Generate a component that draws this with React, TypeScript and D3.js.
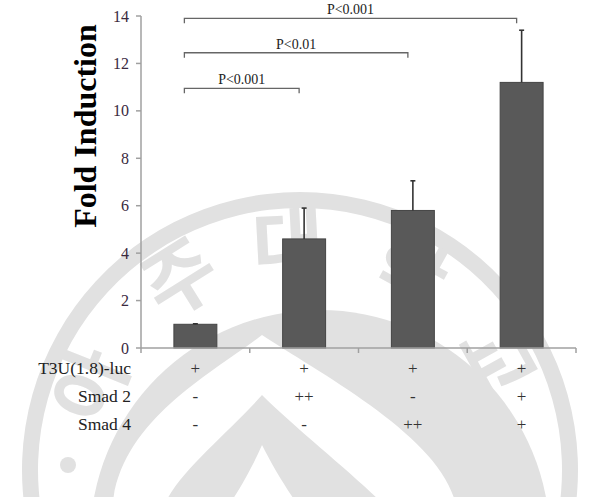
import React from 'react';
import * as d3 from 'd3';

const groups = ['g1', 'g2', 'g3', 'g4'];
const foldValues = [1.0, 4.6, 5.8, 11.2];
const errValues = [0.02, 1.3, 1.25, 2.2];
const yTicks = [0, 2, 4, 6, 8, 10, 12, 14];

const rowLabels = ['T3U(1.8)-luc', 'Smad 2', 'Smad 4'];
const rowT3U = ['+', '+', '+', '+'];
const rowSmad2 = ['-', '++', '-', '+'];
const rowSmad4 = ['-', '-', '++', '+'];

const bracketFrom = [0, 0, 0];
const bracketTo = [3, 2, 1];
const bracketLevel = [13.9, 12.45, 10.95];
const bracketText = ['P<0.001', 'P<0.01', 'P<0.001'];

const watermarkChars = ['아', '주', '대', '학', '교'];
const watermarkAngles = [-68, -32, -3, 29, 61];

const W = 591;
const H = 497;
const WM = '#e1e1e1';

// drop shape used in the watermark logo
const drop = (x0: number, y0: number, w: number) =>
  `M${x0},${y0} C${x0 - w * 0.35},${y0 + 40} ${x0 - w},${y0 + 90} ${x0 - w},${H + 20} ` +
  `L${x0 + w * 1.3},${H + 20} C${x0 + w * 1.3},${y0 + 110} ${x0 + w * 0.4},${y0 + 40} ${x0},${y0} Z`;

const App: React.FC = () => {
  const y = d3.scaleLinear().domain([0, 14]).range([348, 16]);
  const x = d3.scaleBand<string>()
    .domain(groups)
    .range([141, 576])
    .paddingInner(0.605)
    .paddingOuter(0.3025);
  const step = x.step();
  const cx = (i: number) => (x(groups[i]) ?? 0) + x.bandwidth() / 2;
  const boundaries = d3.range(groups.length + 1).map(i => 141 + i * step);

  const rows = [rowT3U, rowSmad2, rowSmad4];
  const rowY = [374, 402, 430];

  const ring = d3.arc()({
    innerRadius: 262,
    outerRadius: 278,
    startAngle: -Math.PI * 0.6,
    endAngle: Math.PI * 0.6,
  }) as string;

  return (
    <svg width={W} height={H} style={{ position: 'absolute', left: 0, top: 0, background: '#fff' }}
      fontFamily="'Liberation Serif', 'Times New Roman', serif">
      {/* watermark */}
      <g>
        <path d={ring} transform="translate(300,470)" fill={WM} />
        <circle cx={68} cy={465} r={8} fill={WM} />
        <circle cx={528} cy={468} r={8} fill={WM} />
        {watermarkChars.map((c, i) => (
          <text key={c} transform={`translate(300,470) rotate(${watermarkAngles[i]}) translate(0,-198)`}
            textAnchor="middle" fontSize={78} fontWeight="bold" fill={WM}
            fontFamily="'Noto Sans CJK KR', sans-serif">{c}</text>
        ))}
        <circle cx={320} cy={540} r={230} fill={WM} />
        <path d={drop(262, 335, 150)} fill="#fff" />
        <path d={drop(262, 395, 100)} fill={WM} />
        <path d={drop(262, 445, 50)} fill="#fff" />
      </g>

      {/* y axis */}
      <line x1={141} x2={141} y1={y(14)} y2={y(0)} stroke="#a0a0a0" strokeWidth={1.5} />
      {yTicks.map(t => (
        <g key={t}>
          <line x1={136} x2={141} y1={y(t)} y2={y(t)} stroke="#a0a0a0" strokeWidth={1.5} />
          <text x={129} y={y(t)} dy="0.35em" textAnchor="end" fontSize={16} fill="#3a2a3e">{t}</text>
        </g>
      ))}
      <text transform={`translate(96,126) rotate(-90)`} textAnchor="middle" fontSize={32}
        fontWeight="bold" fill="#000">Fold Induction</text>

      {/* bars */}
      {foldValues.map((v, i) => (
        <rect key={i} x={x(groups[i])} y={y(v)} width={x.bandwidth()} height={y(0) - y(v)}
          fill="#595959" stroke="#444" strokeWidth={1} />
      ))}
      {foldValues.map((v, i) => (
        <g key={'e' + i} stroke="#333" strokeWidth={1.6}>
          <line x1={cx(i)} x2={cx(i)} y1={y(v)} y2={y(v + errValues[i])} />
          <line x1={cx(i) - 2.5} x2={cx(i) + 2.5} y1={y(v + errValues[i])} y2={y(v + errValues[i])} />
        </g>
      ))}

      {/* x axis */}
      <line x1={141} x2={576} y1={y(0)} y2={y(0)} stroke="#a0a0a0" strokeWidth={1.5} />
      {boundaries.map((b, i) => (
        <line key={i} x1={b} x2={b} y1={y(0)} y2={y(0) + 5} stroke="#a0a0a0" strokeWidth={1.5} />
      ))}

      {/* significance brackets */}
      {bracketText.map((t, i) => {
        const x1 = cx(bracketFrom[i]) - 11;
        const x2 = cx(bracketTo[i]) - 5;
        const by = y(bracketLevel[i]);
        return (
          <g key={'b' + i}>
            <path d={`M${x1},${by + 5}V${by}H${x2}V${by + 5}`} fill="none" stroke="#666" strokeWidth={1.3} />
            <text x={(x1 + x2) / 2} y={by - 4} textAnchor="middle" fontSize={14} fill="#222">{t}</text>
          </g>
        );
      })}

      {/* condition table */}
      {rowLabels.map((l, r) => (
        <g key={l}>
          <text x={131} y={rowY[r]} textAnchor="end" fontSize={17.5} fill="#222">{l}</text>
          {rows[r].map((s, i) => (
            <text key={i} x={cx(i)} y={rowY[r]} textAnchor="middle" fontSize={17} fill="#333">{s}</text>
          ))}
        </g>
      ))}
    </svg>
  );
};

export default App;
